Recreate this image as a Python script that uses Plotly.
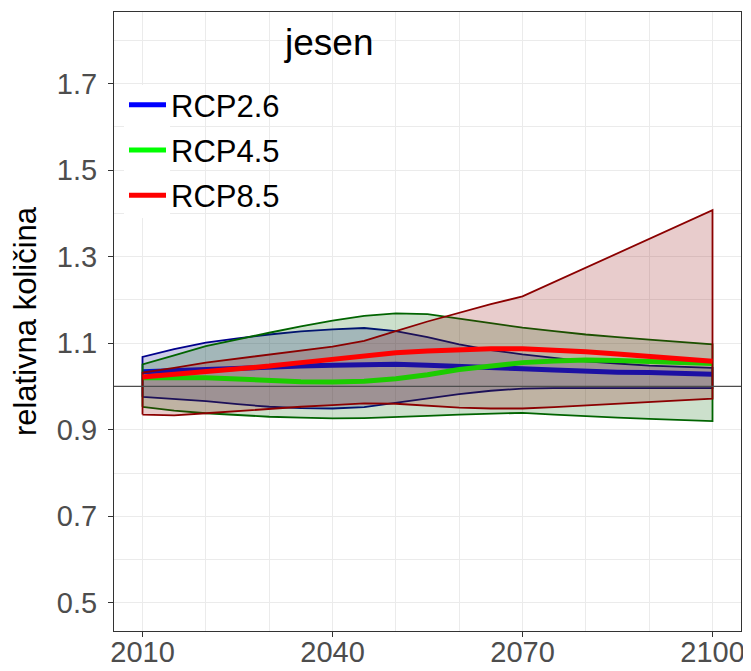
import plotly.graph_objects as go

years = [2010, 2015, 2020, 2025, 2030, 2035, 2040, 2045, 2050, 2055,
         2060, 2065, 2070, 2075, 2080, 2085, 2090, 2095, 2100]

scenarios = ["RCP2.6", "RCP4.5", "RCP8.5"]

rcp26_upper = [1.068, 1.086, 1.101, 1.111, 1.120, 1.127, 1.132, 1.135, 1.128, 1.114,
               1.097, 1.084, 1.074, 1.066, 1.058, 1.053, 1.048, 1.045, 1.043]
rcp26_mean = [1.034, 1.037, 1.040, 1.043, 1.045, 1.047, 1.049, 1.050, 1.051, 1.049,
              1.047, 1.044, 1.041, 1.038, 1.035, 1.033, 1.032, 1.030, 1.028]
rcp26_lower = [0.976, 0.971, 0.966, 0.959, 0.953, 0.950, 0.949, 0.952, 0.962, 0.972,
               0.982, 0.990, 0.995, 0.996, 0.996, 0.996, 0.996, 0.996, 0.996]

rcp45_upper = [1.051, 1.072, 1.093, 1.109, 1.124, 1.139, 1.152, 1.163, 1.169, 1.167,
               1.157, 1.146, 1.136, 1.128, 1.120, 1.114, 1.108, 1.102, 1.097]
rcp45_mean = [1.020, 1.021, 1.020, 1.017, 1.013, 1.011, 1.010, 1.012, 1.018, 1.027,
              1.039, 1.048, 1.055, 1.059, 1.061, 1.060, 1.058, 1.056, 1.053]
rcp45_lower = [0.953, 0.944, 0.938, 0.934, 0.930, 0.928, 0.926, 0.927, 0.929, 0.932,
               0.935, 0.937, 0.939, 0.935, 0.931, 0.928, 0.925, 0.922, 0.920]

rcp85_upper = [1.032, 1.043, 1.055, 1.065, 1.074, 1.083, 1.092, 1.105, 1.128, 1.150,
               1.170, 1.190, 1.208, 1.241, 1.274, 1.307, 1.341, 1.374, 1.407]
rcp85_mean = [1.022, 1.028, 1.033, 1.040, 1.047, 1.055, 1.062, 1.071, 1.078, 1.082,
              1.085, 1.087, 1.087, 1.084, 1.080, 1.075, 1.070, 1.064, 1.058]
rcp85_lower = [0.935, 0.933, 0.938, 0.943, 0.949, 0.953, 0.957, 0.961, 0.960, 0.956,
               0.951, 0.949, 0.949, 0.952, 0.956, 0.960, 0.964, 0.968, 0.972]

uppers = [rcp26_upper, rcp45_upper, rcp85_upper]
means = [rcp26_mean, rcp45_mean, rcp85_mean]
lowers = [rcp26_lower, rcp45_lower, rcp85_lower]

line_colors = ["#0000FF", "#00FF00", "#FF0000"]
band_colors = ["#00008B", "#006400", "#8B0000"]
band_fills = ["rgba(0,0,139,0.2)", "rgba(0,100,0,0.2)", "rgba(139,0,0,0.2)"]

x_ticks = [2010, 2040, 2070, 2100]
x_minor = [2020, 2030, 2050, 2060, 2080, 2090]
y_ticks = [0.5, 0.7, 0.9, 1.1, 1.3, 1.5, 1.7]
y_minor = [0.6, 0.8, 1.0, 1.2, 1.4, 1.6, 1.8]
reference_level = 1.0

FONT = "Liberation Sans, Arial, sans-serif"

# the page body adds an 8px offset, so the figure is 8px smaller and margins compensate
W, H = 743, 663
ML, MR, MT, MB = 106, 10, 4, 40
PH = H - MT - MB  # panel height in px


def py(px_from_top):
    """convert a target screen y (px) to paper y"""
    return (H - MB + 8 - px_from_top) / PH


fig = go.Figure()

for name, up, mn, lo, lc, bc, bf in zip(scenarios, uppers, means, lowers,
                                         line_colors, band_colors, band_fills):
    poly_x = years + years[::-1] + [years[0]]
    poly_y = lo + up[::-1] + [lo[0]]
    fig.add_trace(go.Scatter(
        x=poly_x, y=poly_y, mode="lines", fill="toself", fillcolor=bf,
        line=dict(color=bc, width=1.8), showlegend=False, legendgroup=name,
        hoverinfo="skip"))
    fig.add_trace(go.Scatter(
        x=years, y=mn, mode="lines", name=name, legendgroup=name,
        line=dict(color=lc, width=5)))

fig.add_hline(y=reference_level, line=dict(color="#4D4D4D", width=1.3), layer="above")

# white legend-key backgrounds (as in ggplot theme_bw legend.key); no data lies there
fig.add_shape(type="rect", xref="paper", yref="paper",
              x0=(124 - 114) / 627, x1=(170 - 114) / 627, y0=py(218), y1=py(85),
              fillcolor="white", line=dict(width=0), layer="above")

fig.add_annotation(x=2039.3, y=1.795, xref="x", yref="y", text="jesen",
                   showarrow=False, font=dict(family=FONT, size=37, color="black"))

fig.update_layout(
    template="none",
    width=W, height=H,
    margin=dict(l=ML, r=MR, t=MT, b=MB, autoexpand=False),
    paper_bgcolor="white", plot_bgcolor="white",
    font=dict(family=FONT),
    legend=dict(x=(124 - 114) / 627, y=py(78), xanchor="left", yanchor="top",
                bgcolor="rgba(0,0,0,0)", borderwidth=0,
                font=dict(family=FONT, size=31, color="black"),
                tracegroupgap=2, traceorder="grouped", itemwidth=37),
    xaxis=dict(range=[2005.5, 2104.5], tickvals=x_ticks, ticktext=[str(v) for v in x_ticks],
               automargin=False, ticklabelstandoff=-10,
               showgrid=True, gridcolor="#EBEBEB", gridwidth=1.4,
               minor=dict(tickvals=x_minor, showgrid=True, gridcolor="#EBEBEB", gridwidth=1, ticks=""),
               ticks="outside", ticklen=5, tickcolor="#333333", tickwidth=1.2,
               tickfont=dict(family=FONT, size=29, color="#4D4D4D"),
               showline=True, linecolor="#333333", linewidth=1.2, mirror=True,
               zeroline=False),
    yaxis=dict(range=[0.435, 1.865], tickvals=y_ticks, ticktext=[f"{v:.1f}" for v in y_ticks],
               automargin=False, ticklabelstandoff=5,
               showgrid=True, gridcolor="#EBEBEB", gridwidth=1.4,
               minor=dict(tickvals=y_minor, showgrid=True, gridcolor="#EBEBEB", gridwidth=1, ticks=""),
               ticks="outside", ticklen=5, tickcolor="#333333", tickwidth=1.2,
               tickfont=dict(family=FONT, size=29, color="#4D4D4D"),
               showline=True, linecolor="#333333", linewidth=1.2, mirror=True,
               zeroline=False,
               title=dict(text="relativna količina", font=dict(family=FONT, size=31, color="black"),
                          standoff=14)),
)

fig.write_html("out.html")
